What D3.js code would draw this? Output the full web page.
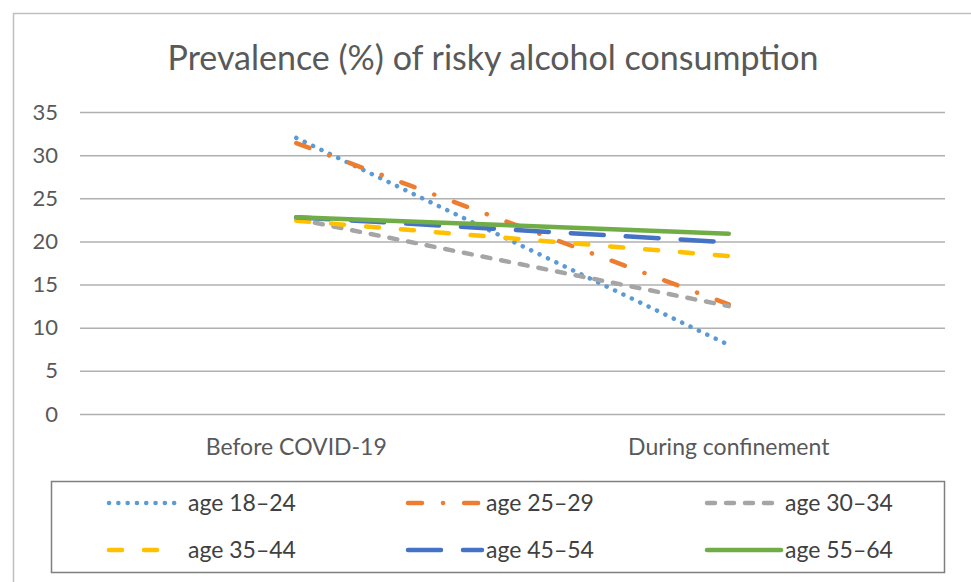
<!DOCTYPE html>
<html>
<head>
<meta charset="utf-8">
<script src="https://cdn.jsdelivr.net/npm/d3@7"></script>
<style>
  body { margin: 0; background: #fff; }
  svg { display: block; font-family: Lato, "Open Sans", sans-serif; }
</style>
</head>
<body>
<svg id="drawing_region"></svg>
<script>
// data
const categories = ["Before COVID-19", "During confinement"];
const seriesNames = ["age 18\u201324", "age 25\u201329", "age 30\u201334", "age 35\u201344", "age 45\u201354", "age 55\u201364"];
const age18_24 = [32.0, 8.0];
const age25_29 = [31.4, 12.7];
const age30_34 = [22.6, 12.5];
const age35_44 = [22.4, 18.3];
const age45_54 = [22.8, 19.9];
const age55_64 = [22.8, 20.9];
const yTicks = [0, 5, 10, 15, 20, 25, 30, 35];

const seriesValues = [age18_24, age25_29, age30_34, age35_44, age45_54, age55_64];
const colors = ["#5b9bd5", "#ed7d31", "#a5a5a5", "#ffc000", "#4472c4", "#70ad47"];
const dashes = ["0.1 9.2", "14 21 0.1 21", "8 11", "13 22", "33 22", null];

const config = {
    width: 971,
    height: 582,
    left: 80, right: 945,
    top: 112, bottom: 414
};

const svg = d3.select('#drawing_region')
    .attr('width', config.width)
    .attr('height', config.height);

// outer chart border (runs off the picture on right and bottom)
svg.append('rect')
    .attr('x', 13.5).attr('y', 13.5)
    .attr('width', 1000).attr('height', 600)
    .attr('fill', 'none')
    .attr('stroke', '#c0c0c0')
    .attr('stroke-width', 1.5);

svg.append('text')
    .attr('x', 493).attr('y', 70)
    .attr('text-anchor', 'middle')
    .attr('font-size', '34px')
    .attr('fill', '#595959')
    .text('Prevalence (%) of risky alcohol consumption');

const x = d3.scaleBand()
    .domain(categories)
    .range([config.left, config.right]);

const y = d3.scaleLinear()
    .domain([0, 35])
    .range([config.bottom, config.top]);

// gridlines + y labels
const yAxis = svg.append('g')
    .attr('transform', `translate(${config.left},0)`)
    .call(d3.axisLeft(y).tickValues(yTicks)
        .tickSize(-(config.right - config.left)).tickPadding(22));
yAxis.select('.domain').remove();
yAxis.selectAll('line').attr('stroke', '#b0b0b0').attr('stroke-width', 1.5);
yAxis.selectAll('text')
    .attr('fill', '#595959')
    .attr('font-size', '22px')
    .attr('font-family', 'Lato, sans-serif');

// category labels
const xAxis = svg.append('g')
    .attr('transform', `translate(0,${config.bottom})`)
    .call(d3.axisBottom(x).tickSize(0).tickPadding(25));
xAxis.select('.domain').remove();
xAxis.selectAll('text')
    .attr('fill', '#595959')
    .attr('font-size', '23px')
    .attr('font-family', 'Lato, sans-serif');

const line = d3.line()
    .x((d, i) => x(categories[i]) + x.bandwidth() / 2)
    .y(d => y(d));

svg.append('g').selectAll('path')
    .data(seriesValues)
    .join('path')
    .attr('d', line)
    .attr('fill', 'none')
    .attr('stroke', (d, i) => colors[i])
    .attr('stroke-width', 4.5)
    .attr('stroke-linecap', 'round')
    .attr('stroke-dasharray', (d, i) => dashes[i]);

// legend
svg.append('rect')
    .attr('x', 51.5).attr('y', 481.5)
    .attr('width', 893).attr('height', 91)
    .attr('fill', 'none')
    .attr('stroke', '#7f7f7f')
    .attr('stroke-width', 1.5);

const colX = [109, 408, 707];
const rowY = [503, 550];

const legend = svg.append('g').selectAll('g')
    .data(seriesNames)
    .join('g')
    .attr('transform', (d, i) => `translate(${colX[i % 3]},${rowY[Math.floor(i / 3)]})`);

legend.append('line')
    .attr('x1', 0).attr('x2', (d, i) => i === 3 ? 57 : 74)
    .attr('y1', 0).attr('y2', 0)
    .attr('stroke', (d, i) => colors[i])
    .attr('stroke-width', 4.5)
    .attr('stroke-linecap', 'round')
    .attr('stroke-dasharray', (d, i) => dashes[i]);

legend.append('text')
    .attr('x', (d, i) => i % 3 === 0 ? 79 : 78)
    .attr('y', 8)
    .attr('font-size', '23px')
    .attr('fill', '#404040')
    .text(d => d);
</script>
</body>
</html>
